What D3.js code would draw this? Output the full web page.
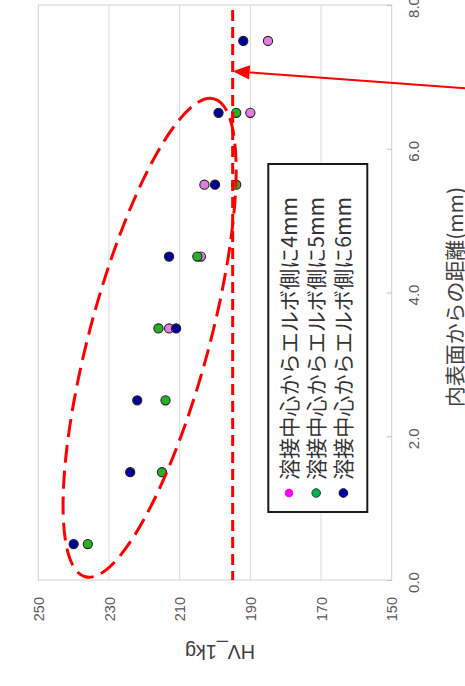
<!DOCTYPE html>
<html><head><meta charset="utf-8">
<script src="https://cdn.jsdelivr.net/npm/d3@7"></script>
<style>html,body{margin:0;padding:0;background:#fff;overflow:hidden}</style>
</head><body><svg id="c" width="465" height="686"></svg>
<script>
// ---- data ----
const distances = [0.5, 1.5, 2.5, 3.5, 4.5, 5.5, 6.5, 7.5];
const seriesNames = ["溶接中心からエルボ側に4mm", "溶接中心からエルボ側に5mm", "溶接中心からエルボ側に6mm"];
const hv4mm = [null, null, null, 213, 204, 203, 190, 185];
const hv5mm = [236, 215, 214, 216, 205, 194, 194, null];
const hv6mm = [240, 224, 222, 211, 213, 200, 199, 192];
const distTicks = [0, 2, 4, 6, 8];
const hvTicks = [250, 230, 210, 190, 170, 150];
const limitHV = 195;
const xTitle = "内表面からの距離(mm)";
const yTitle = "HV_1kg";

// ---- styles ----
const pointFill = ["#e07fe0", "#27b127", "#000096"];
const legendFill = ["#ff00ff", "#00b050", "#0000a0"];
const legendStroke = ["none", "#1d4a2c", "#00004a"];
const RED = "#ff0000";
const numFont = "'Liberation Sans', Arial, sans-serif";
const jpFont = "'Noto Sans CJK JP', sans-serif";

const svg = d3.select("#c");
// chart is drawn rotated 90° counter-clockwise: HV runs left->right, distance runs bottom->top
const hv = d3.scaleLinear().domain([250, 150]).range([38.3, 391.7]);
const dist = d3.scaleLinear().domain([0, 8]).range([580, 5]);

// gridlines
svg.append("g").selectAll("line").data(hvTicks.slice(1, -1)).join("line")
  .attr("x1", d => hv(d)).attr("x2", d => hv(d))
  .attr("y1", dist(8)).attr("y2", dist(0))
  .attr("stroke", "#d9d9d9").attr("stroke-width", 1);

// plot border
svg.append("rect")
  .attr("x", hv(250)).attr("y", dist(8))
  .attr("width", hv(150) - hv(250)).attr("height", dist(0) - dist(8))
  .attr("fill", "none").attr("stroke", "#d0d0d0").attr("stroke-width", 1);

// distance axis (right side)
const ga = svg.append("g").attr("transform", `translate(${hv(150)},0)`)
  .call(d3.axisRight(dist).tickValues(distTicks).tickSize(-5).tickFormat(d3.format(".1f")));
ga.select(".domain").remove();
ga.selectAll(".tick line").attr("stroke", "#bfbfbf");
ga.selectAll(".tick text")
  .attr("x", 0).attr("dy", 0)
  .attr("transform", "translate(27.6,2) rotate(-90)")
  .attr("text-anchor", "middle")
  .attr("fill", "#595959").style("font-family", numFont).style("font-size", "15px");

// HV axis (bottom)
const gb = svg.append("g").attr("transform", `translate(0,${dist(0)})`)
  .call(d3.axisBottom(hv).tickValues(hvTicks).tickSize(0).tickFormat(d3.format("d")));
gb.select(".domain").remove();
gb.selectAll(".tick text")
  .attr("x", 0).attr("y", 0).attr("dy", "0.35em")
  .attr("transform", "translate(0,17) rotate(-90)")
  .attr("text-anchor", "end")
  .attr("fill", "#595959").style("font-family", numFont).style("font-size", "14.5px");

// axis titles
svg.append("text").text(yTitle)
  .attr("transform", `translate(${(hv(250) + hv(150)) / 2 + 5},645) rotate(180)`)
  .attr("text-anchor", "middle").attr("fill", "#404040")
  .style("font-family", numFont).style("font-size", "19.7px");
svg.append("text").text(xTitle)
  .attr("transform", "translate(462.5,297) rotate(-90)")
  .attr("text-anchor", "middle").attr("fill", "#404040")
  .attr("textLength", 220).attr("lengthAdjust", "spacingAndGlyphs")
  .style("font-family", jpFont).style("font-size", "20.5px");

// points
const series = [hv4mm, hv5mm, hv6mm];
series.forEach((vals, si) => {
  const pts = distances.map((d, i) => ({ d, v: vals[i] })).filter(p => p.v != null);
  svg.append("g").selectAll("circle").data(pts).join("circle")
    .attr("cx", p => hv(p.v)).attr("cy", p => dist(p.d)).attr("r", 4.6)
    .attr("fill", pointFill[si]).attr("stroke", "#222").attr("stroke-width", 1.1);
});

// annotation: ellipse around the points
const ell = { hv: 218.5, d: 3.37 };
svg.append("ellipse")
  .attr("transform", `translate(${hv(ell.hv)},${dist(ell.d)}) rotate(-74.9)`)
  .attr("rx", 247.5).attr("ry", 59.8)
  .attr("fill", "none").attr("stroke", RED).attr("stroke-width", 3)
  .attr("stroke-dasharray", "18,8");

// annotation: limit line
svg.append("line")
  .attr("x1", hv(limitHV)).attr("x2", hv(limitHV))
  .attr("y1", dist(7.93)).attr("y2", dist(0))
  .attr("stroke", RED).attr("stroke-width", 3).attr("stroke-dasharray", "11,6");

// annotation: arrow
const tip = [hv(limitHV), dist(7.08)];
const tail = [hv(129.2), dist(6.84)];
const dx = tail[0] - tip[0], dy = tail[1] - tip[1];
const L = Math.hypot(dx, dy), ux = dx / L, uy = dy / L;
const hl = 17, hw = 7.2;
const base = [tip[0] + ux * hl, tip[1] + uy * hl];
svg.append("line")
  .attr("x1", tail[0]).attr("y1", tail[1]).attr("x2", base[0]).attr("y2", base[1])
  .attr("stroke", RED).attr("stroke-width", 2);
svg.append("path")
  .attr("d", `M${tip[0]},${tip[1]}L${base[0] - uy * hw},${base[1] + ux * hw}L${base[0] + uy * hw},${base[1] - ux * hw}Z`)
  .attr("fill", RED);

// legend
const lg = svg.append("g");
lg.append("rect").attr("x", 268.3).attr("y", 164).attr("width", 99).attr("height", 348)
  .attr("fill", "#fff").attr("stroke", "#1a1a1a").attr("stroke-width", 2);
seriesNames.forEach((name, i) => {
  const cx = 289 + i * 27.2;
  lg.append("circle").attr("cx", cx).attr("cy", 493).attr("r", 4.3)
    .attr("fill", legendFill[i]).attr("stroke", legendStroke[i]).attr("stroke-width", 1);
  lg.append("text").text(name)
    .attr("transform", `translate(${cx + 8},480) rotate(-90)`)
    .attr("text-anchor", "start").attr("fill", "#333")
    .attr("textLength", 283).attr("lengthAdjust", "spacingAndGlyphs")
    .style("font-family", jpFont).style("font-size", "21px");
});
</script>
</body></html>
